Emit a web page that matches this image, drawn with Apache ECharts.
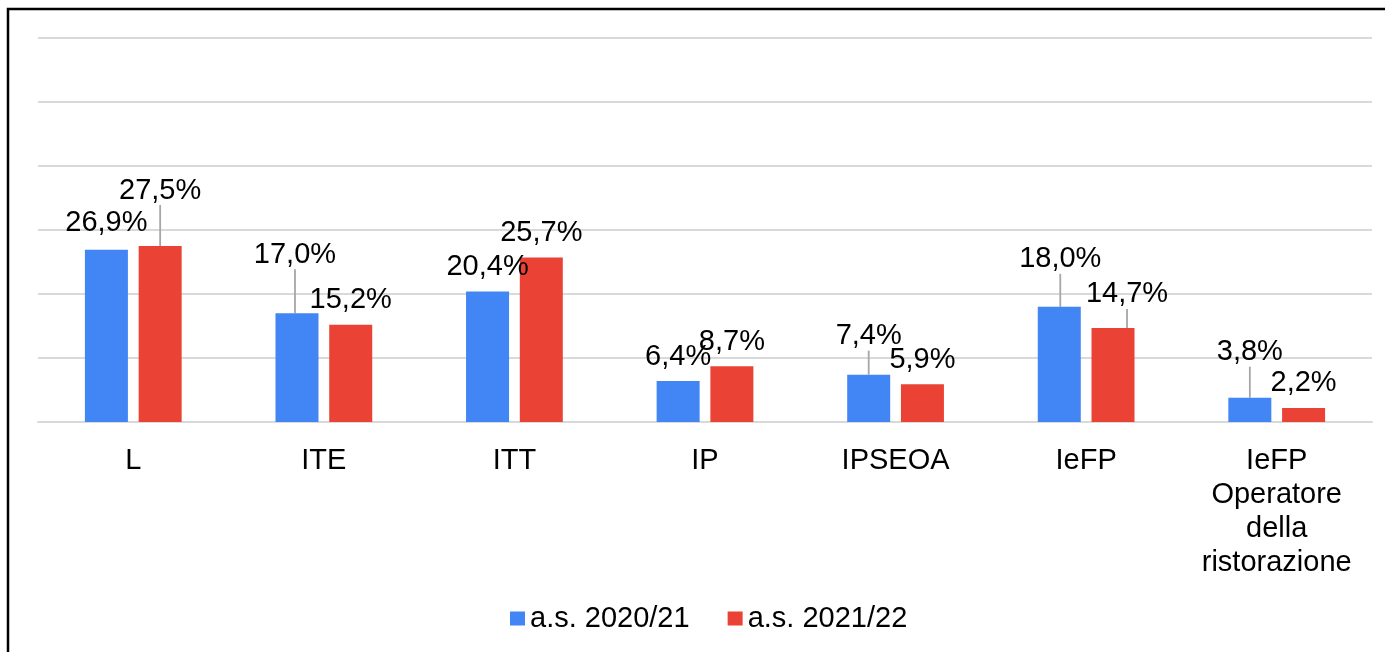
<!DOCTYPE html>
<html>
<head>
<meta charset="utf-8">
<script src="https://cdn.jsdelivr.net/npm/echarts@6/dist/echarts.min.js"></script>
<style>
  html, body { margin: 0; padding: 0; background: #fff; }
  #chart { width: 1385px; height: 652px; }
</style>
</head>
<body>
<div id="chart"></div>
<script>
// ---- data ----
const categories = ['L', 'ITE', 'ITT', 'IP', 'IPSEOA', 'IeFP', 'IeFP\nOperatore\ndella\nristorazione'];
const seriesNames = ['a.s. 2020/21', 'a.s. 2021/22'];
const values2020 = [26.9, 17.0, 20.4, 6.4, 7.4, 18.0, 3.8];
const values2021 = [27.5, 15.2, 25.7, 8.7, 5.9, 14.7, 2.2];
const yTicks = [0, 10, 20, 30, 40, 50, 60];

// ---- label placement (style only) ----
const labelOffsets = [
  [[0, -2], [-2, -34], [0, 0], [0, 0], [0, -14], [1, -23], [0, -21]],
  [[0, -31], [0, 0], [0, 0], [0, 0], [0, 0], [14, -9], [0, 0]]
];
const showLines = [
  [false, true, false, false, true, true, true],
  [true, false, false, false, false, true, false]
];

const colors = ['#4285F4', '#EA4335'];
const FONT = '"Liberation Sans", Arial, sans-serif';

function fmt(v) { return v.toFixed(1).replace('.', ',') + '%'; }

function buildData(vals, si) {
  return vals.map((v, i) => ({
    value: v,
    labelLine: { show: showLines[si][i] }
  }));
}

const chart = echarts.init(document.getElementById('chart'), null, { renderer: 'canvas' });

const seriesVals = [values2020, values2021];

chart.setOption({
  animation: false,
  backgroundColor: '#ffffff',
  textStyle: { fontFamily: FONT },
  graphic: [{
    type: 'polyline',
    shape: { points: [[8, 660], [8, 9], [1390, 9]] },
    style: { stroke: '#000', lineWidth: 2.5, fill: null },
    silent: true
  }],
  grid: { left: 38, right: 13, top: 38, bottom: 230, containLabel: false },
  legend: {
    data: seriesNames,
    left: 510,
    top: 604,
    padding: 0,
    itemWidth: 15,
    itemHeight: 14,
    itemGap: 38,
    icon: 'rect',
    textStyle: { fontSize: 29, color: '#000', fontFamily: FONT }
  },
  xAxis: {
    type: 'category',
    data: categories,
    axisLine: { show: true, lineStyle: { color: '#d9d9d9', width: 2 } },
    axisTick: { show: false },
    axisLabel: {
      color: '#000', fontSize: 29, fontFamily: FONT, lineHeight: 34,
      margin: 22, interval: 0, align: 'center'
    }
  },
  yAxis: {
    type: 'value',
    min: yTicks[0],
    max: yTicks[yTicks.length - 1],
    interval: 10,
    axisLabel: { show: false },
    axisLine: { show: false },
    axisTick: { show: false },
    splitLine: { lineStyle: { color: '#d9d9d9', width: 2 } }
  },
  series: seriesNames.map((name, si) => ({
    name: name,
    type: 'bar',
    data: buildData(seriesVals[si], si),
    barWidth: 43,
    barGap: '25%',
    itemStyle: { color: colors[si] },
    label: {
      show: true,
      position: 'top',
      distance: 10,
      color: '#000',
      fontSize: 29,
      fontFamily: FONT,
      formatter: p => fmt(p.value)
    },
    labelLine: {
      show: false,
      length2: 0,
      lineStyle: { color: '#a6a6a6', width: 1.8 }
    },
    labelLayout: function (params) {
      const o = labelOffsets[params.seriesIndex][params.dataIndex];
      return { dx: o[0], dy: o[1], hideOverlap: false };
    }
  }))
});
</script>
</body>
</html>
